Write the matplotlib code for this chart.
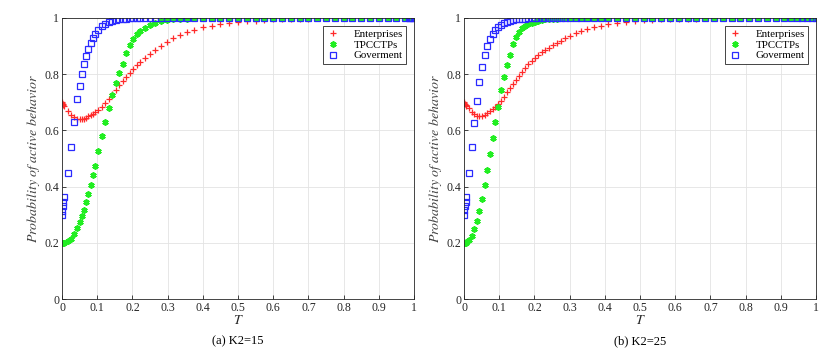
import matplotlib.pyplot as plt

plt.rcParams['font.family'] = ['Liberation Serif', 'DejaVu Serif']
plt.rcParams['mathtext.fontset'] = 'stix'

# ---- (a) K2=15 ----
t_a = [0, 0.001, 0.002, 0.004, 0.006, 0.017, 0.026, 0.035, 0.044, 0.050,
       0.057, 0.063, 0.069, 0.075, 0.081, 0.087, 0.094, 0.103, 0.113, 0.123,
       0.133, 0.143, 0.153, 0.163, 0.173, 0.183, 0.193, 0.203, 0.213, 0.223,
       0.236, 0.250, 0.265, 0.280, 0.297, 0.315, 0.335, 0.355, 0.375, 0.400,
       0.425, 0.450, 0.475, 0.500, 0.525, 0.550, 0.575, 0.600, 0.625, 0.650,
       0.675, 0.700, 0.725, 0.750, 0.775, 0.800, 0.825, 0.850, 0.875, 0.900,
       0.925, 0.950, 0.975, 0.985, 0.990, 0.995, 1.000]
ent_a = [0.700, 0.698, 0.695, 0.690, 0.687, 0.668, 0.655, 0.646, 0.641, 0.640,
         0.640, 0.642, 0.645, 0.650, 0.655, 0.660, 0.665, 0.672, 0.684, 0.697,
         0.712, 0.728, 0.745, 0.760, 0.776, 0.791, 0.805, 0.819, 0.832, 0.845,
         0.858, 0.872, 0.887, 0.901, 0.915, 0.928, 0.940, 0.950, 0.958, 0.967,
         0.973, 0.978, 0.982, 0.986, 0.989, 0.991, 0.993, 0.995, 0.996, 0.997,
         0.998, 0.998, 0.999, 0.999, 1.0, 1.0, 1.0, 1.0, 1.0, 1.0,
         1.0, 1.0, 1.0, 1.0, 1.0, 1.0, 1.0]
tpc_a = [0.200, 0.200, 0.200, 0.200, 0.201, 0.205, 0.215, 0.231, 0.253, 0.274,
         0.294, 0.318, 0.346, 0.375, 0.406, 0.440, 0.474, 0.526, 0.579, 0.630,
         0.679, 0.727, 0.769, 0.805, 0.837, 0.875, 0.903, 0.925, 0.942, 0.955,
         0.965, 0.975, 0.982, 0.988, 0.992, 0.995, 0.997, 0.998, 0.999, 1.0,
         1.0, 1.0, 1.0, 1.0, 1.0, 1.0, 1.0, 1.0, 1.0, 1.0,
         1.0, 1.0, 1.0, 1.0, 1.0, 1.0, 1.0, 1.0, 1.0, 1.0,
         1.0, 1.0, 1.0, 1.0, 1.0, 1.0, 1.0]
gov_a = [0.300, 0.312, 0.330, 0.345, 0.363, 0.450, 0.541, 0.630, 0.711, 0.758,
         0.800, 0.836, 0.866, 0.891, 0.911, 0.929, 0.943, 0.957, 0.970, 0.978,
         0.984, 0.990, 0.993, 0.995, 0.997, 0.998, 0.999, 1.0, 1.0, 1.0,
         1.0, 1.0, 1.0, 1.0, 1.0, 1.0, 1.0, 1.0, 1.0, 1.0,
         1.0, 1.0, 1.0, 1.0, 1.0, 1.0, 1.0, 1.0, 1.0, 1.0,
         1.0, 1.0, 1.0, 1.0, 1.0, 1.0, 1.0, 1.0, 1.0, 1.0,
         1.0, 1.0, 1.0, 1.0, 1.0, 1.0, 1.0]

# ---- (b) K2=25 ----
t_b = [0, 0.001, 0.003, 0.005, 0.007, 0.014, 0.022, 0.029, 0.037, 0.044,
       0.051, 0.059, 0.066, 0.074, 0.081, 0.088, 0.096, 0.104, 0.113, 0.121,
       0.130, 0.138, 0.147, 0.156, 0.165, 0.174, 0.183, 0.192, 0.201, 0.211,
       0.221, 0.231, 0.241, 0.252, 0.263, 0.275, 0.288, 0.302, 0.317, 0.333,
       0.350, 0.370, 0.390, 0.410, 0.435, 0.460, 0.485, 0.510, 0.535, 0.560,
       0.585, 0.610, 0.635, 0.660, 0.685, 0.710, 0.735, 0.760, 0.785, 0.810,
       0.835, 0.860, 0.885, 0.910, 0.930, 0.945, 0.960, 0.975, 0.990, 1.000]
ent_b = [0.700, 0.698, 0.694, 0.690, 0.687, 0.678, 0.665, 0.657, 0.652, 0.650,
         0.651, 0.655, 0.662, 0.668, 0.676, 0.685, 0.695, 0.706, 0.720, 0.735,
         0.750, 0.765, 0.780, 0.794, 0.808, 0.822, 0.836, 0.848, 0.858, 0.868,
         0.878, 0.886, 0.895, 0.903, 0.911, 0.919, 0.928, 0.937, 0.945, 0.953,
         0.960, 0.967, 0.972, 0.977, 0.982, 0.986, 0.989, 0.992, 0.994, 0.995,
         0.996, 0.997, 0.998, 0.998, 0.999, 0.999, 1.0, 1.0, 1.0, 1.0,
         1.0, 1.0, 1.0, 1.0, 1.0, 1.0, 1.0, 1.0, 1.0, 1.0]
tpc_b = [0.200, 0.200, 0.200, 0.201, 0.202, 0.209, 0.224, 0.248, 0.278, 0.313,
         0.356, 0.405, 0.458, 0.515, 0.574, 0.630, 0.683, 0.743, 0.791, 0.834,
         0.868, 0.906, 0.932, 0.951, 0.963, 0.972, 0.978, 0.983, 0.987, 0.990,
         0.993, 0.995, 0.996, 0.997, 0.998, 0.999, 1.0, 1.0, 1.0, 1.0,
         1.0, 1.0, 1.0, 1.0, 1.0, 1.0, 1.0, 1.0, 1.0, 1.0,
         1.0, 1.0, 1.0, 1.0, 1.0, 1.0, 1.0, 1.0, 1.0, 1.0,
         1.0, 1.0, 1.0, 1.0, 1.0, 1.0, 1.0, 1.0, 1.0, 1.0]
gov_b = [0.300, 0.315, 0.330, 0.345, 0.363, 0.450, 0.540, 0.628, 0.706, 0.772,
         0.826, 0.868, 0.900, 0.926, 0.943, 0.957, 0.967, 0.975, 0.982, 0.987,
         0.990, 0.993, 0.995, 0.996, 0.997, 0.998, 0.999, 1.0, 1.0, 1.0,
         1.0, 1.0, 1.0, 1.0, 1.0, 1.0, 1.0, 1.0, 1.0, 1.0,
         1.0, 1.0, 1.0, 1.0, 1.0, 1.0, 1.0, 1.0, 1.0, 1.0,
         1.0, 1.0, 1.0, 1.0, 1.0, 1.0, 1.0, 1.0, 1.0, 1.0,
         1.0, 1.0, 1.0, 1.0, 1.0, 1.0, 1.0, 1.0, 1.0, 1.0]

labels = ['Enterprises', 'TPCCTPs', 'Goverment']
captions = ['(a) K2=15', '(b) K2=25']
ticks = [0, 0.1, 0.2, 0.3, 0.4, 0.5, 0.6, 0.7, 0.8, 0.9, 1]
tick_labels = ['0', '0.1', '0.2', '0.3', '0.4', '0.5', '0.6', '0.7', '0.8', '0.9', '1']
yticks = [0, 0.2, 0.4, 0.6, 0.8, 1]
ytick_labels = ['0', '0.2', '0.4', '0.6', '0.8', '1']

fig = plt.figure(figsize=(8.38, 3.51), dpi=100)
W, H = 838, 351
boxes = [(62, 414), (464, 816)]
panels = [(t_a, ent_a, tpc_a, gov_a), (t_b, ent_b, tpc_b, gov_b)]

for (x0, x1), (t, ent, tpc, gov), cap in zip(boxes, panels, captions):
    ax = fig.add_axes([x0 / W, 1 - 299 / H, (x1 - x0) / W, (299 - 18) / H])
    ax.plot(t, ent, ls='none', marker='+', color='#ff2a2a', ms=5, mew=0.9,
            label=labels[0])
    ax.plot(t, tpc, ls='none', marker=(6, 2, 0), color='#22ee22', ms=4.5,
            mew=1.3, label=labels[1])
    ax.plot(t, gov, ls='none', marker='s', mfc='none', mec='#2a2aff', ms=3.8,
            mew=0.9, label=labels[2])
    ax.set_xlim(0, 1)
    ax.set_ylim(0, 1)
    ax.set_xticks(ticks)
    ax.set_xticklabels(tick_labels)
    ax.set_yticks(yticks)
    ax.set_yticklabels(ytick_labels)
    ax.tick_params(direction='in', length=3, width=0.6, labelsize=8.5,
                   colors='#262626', top=False, right=False, pad=2)
    ax.grid(True, color='#e3e3e3', lw=0.6)
    ax.set_axisbelow(True)
    for s in ax.spines.values():
        s.set_color('#262626')
        s.set_linewidth(0.6)
    ax.set_xlabel('$T$', fontsize=10, labelpad=0, color='#262626')
    ax.set_ylabel('$Probability\\ of\\ active\\ behavior$', fontsize=10,
                  color='#404040', labelpad=2)
    leg = ax.legend(loc='upper right', bbox_to_anchor=(0.977, 0.972),
                    fontsize=7.8, fancybox=False, edgecolor='#262626',
                    framealpha=1, handletextpad=1.3, borderpad=0.3,
                    labelspacing=0.12, handlelength=1.2, borderaxespad=0)
    leg.get_frame().set_linewidth(0.6)
    fig.text((x0 + x1) / 2 / W, 1 - 341 / H, cap, ha='center', va='center',
             fontsize=9)

fig.savefig('out.png', dpi=100)
